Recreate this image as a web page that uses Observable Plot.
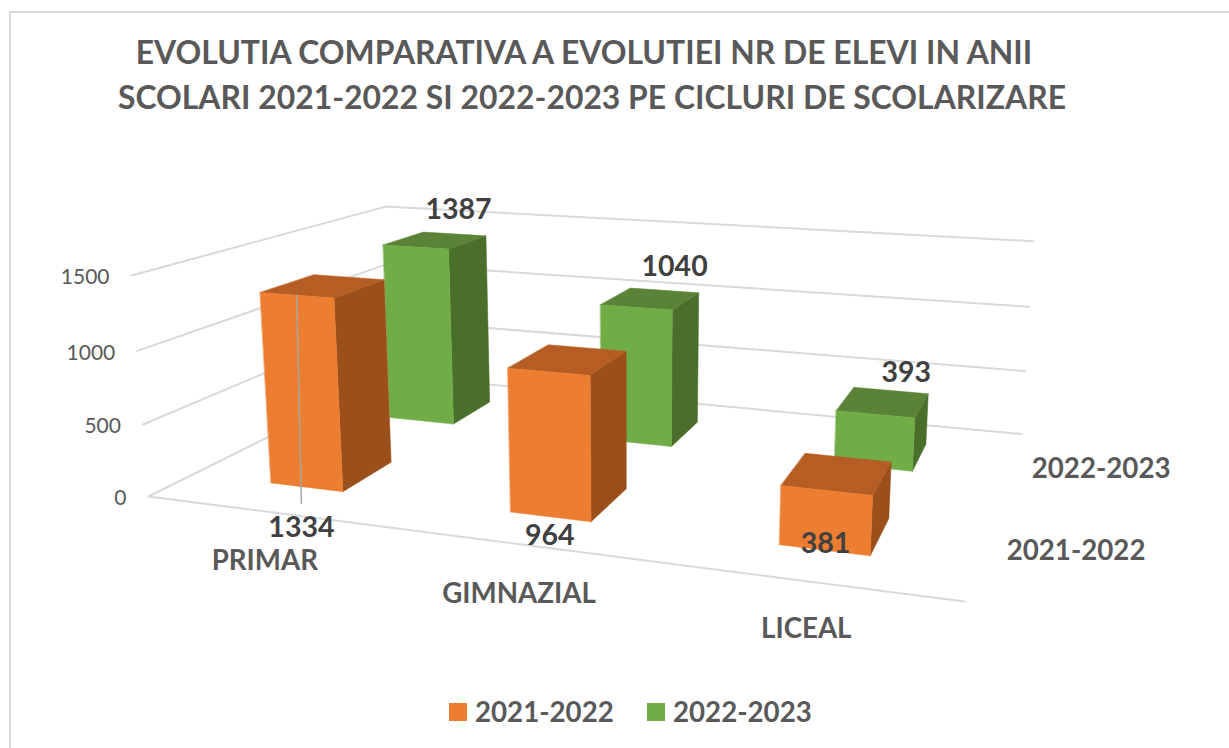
<!DOCTYPE html>
<html>
<head>
<meta charset="utf-8">
<script src="https://cdn.jsdelivr.net/npm/d3@7"></script>
<script src="https://cdn.jsdelivr.net/npm/@observablehq/plot@0.6"></script>
<style>
html,body{margin:0;padding:0;background:#fff;overflow:hidden}
#page{position:relative;width:1229px;height:748px;overflow:hidden;font-family:Lato,sans-serif}
#frame{position:absolute;left:9px;top:11px;width:1300px;height:800px;border:2px solid #d9d9d9;box-sizing:border-box}
.title{position:absolute;white-space:nowrap;font-weight:700;font-size:31.9px;color:#595959;line-height:36px;transform:translateX(-50%)}
#chart{position:absolute;left:0;top:130px;width:1229px;height:550px}
#chart svg{display:block;overflow:visible;background:transparent}
.swatch{position:absolute;top:703px;width:18px;height:18px}
.legend{position:absolute;top:695px;font-weight:700;font-size:27.7px;line-height:34px;color:#595959;white-space:nowrap}
</style>
</head>
<body>
<div id="page">
  <div id="frame"></div>
  <div id="t1" class="title" style="left:584px;top:34px"></div>
  <div id="t2" class="title" style="left:592px;top:79px"></div>
  <div id="chart"></div>
  <div id="legend"></div>
</div>
<script>
// ---- data ----
const titleLines = [
  "EVOLUTIA COMPARATIVA A EVOLUTIEI NR DE ELEVI IN ANII",
  "SCOLARI 2021-2022 SI 2022-2023 PE CICLURI DE SCOLARIZARE"
];
const categories = ["PRIMAR", "GIMNAZIAL", "LICEAL"];
const seriesNames = ["2021-2022", "2022-2023"];
const values2021 = [1334, 964, 381];
const values2022 = [1387, 1040, 393];
const valueTicks = [0, 500, 1000, 1500];
const valueMax = 1500;

// ---- styles ----
const faceColors = {
  "2021-2022 front": "#ED7D31", "2021-2022 side": "#9B4F1B", "2021-2022 top": "#B55D22",
  "2022-2023 front": "#70AD47", "2022-2023 side": "#4A6F2B", "2022-2023 top": "#5A8337"
};
const legendColors = ["#ED7D31", "#70AD47"];
const legendSwatchX = [449, 647];
const legendTextX = [475, 673];
const labelOffsets = {
  "2021-2022": [[-31, 56], [-20, 36], [-10, 13]],
  "2022-2023": [[23, -30], [24, -32], [23, -29]]
};
const catLabelDy = [50, 50, 48];

// ---- 3D chart box: camera mapping (category axis u, depth d, value v, all 0..1) to the picture ----
const cam = {o: [148, 496], u: [964, 601], d: [391.5, 375], v: [131, 275], a: -0.1685, b: 0.3223, c: -0.034};
function project(u, d, v) {
  const w = 1 + cam.a * u + cam.b * d + cam.c * v;
  const p = i => (cam.o[i]
    + u * (cam.u[i] * (1 + cam.a) - cam.o[i])
    + d * (cam.d[i] * (1 + cam.b) - cam.o[i])
    + v * (cam.v[i] * (1 + cam.c) - cam.o[i])) / w;
  return [p(0), p(1)];
}
const barHalfU = 0.052, barHalfD = 0.1, backWallEnd = 1.008;
const nCat = categories.length, nSer = seriesNames.length;
const uC = i => (i + 0.5) / nCat;
const dC = s => (s + 0.5) / nSer;

// grid
const gridRows = [];
for (const t of valueTicks) {
  const v = t / valueMax;
  gridRows.push({id: "w" + t, pos: project(0, 0, v)}, {id: "w" + t, pos: project(0, 1, v)}, {id: "w" + t, pos: project(backWallEnd, 1, v)});
}
gridRows.push({id: "front", pos: project(0, 0, 0)}, {id: "front", pos: project(1, 0, 0)});

// bars, back series first
const faceRows = [];
const seriesValues = [values2021, values2022];
[1, 0].forEach(s => {
  categories.forEach((cat, i) => {
    const v = seriesValues[s][i] / valueMax;
    const u0 = uC(i) - barHalfU, u1 = uC(i) + barHalfU, d0 = dC(s) - barHalfD, d1 = dC(s) + barHalfD;
    const faces = {
      side: [[u1, d0, 0], [u1, d1, 0], [u1, d1, v], [u1, d0, v]],
      top: [[u0, d0, v], [u1, d0, v], [u1, d1, v], [u0, d1, v]],
      front: [[u0, d0, 0], [u1, d0, 0], [u1, d0, v], [u0, d0, v]]
    };
    for (const [name, corners] of Object.entries(faces)) {
      for (const c of corners) faceRows.push({id: `${s}-${i}-${name}`, face: `${seriesNames[s]} ${name}`, pos: project(...c)});
    }
  });
});

// labels
const valueLabels = [];
seriesNames.forEach((name, s) => categories.forEach((cat, i) => {
  const val = seriesValues[s][i];
  const base = s === 1 ? project(uC(i), dC(s), val / valueMax) : project(uC(i), dC(s), 0);
  const off = labelOffsets[name][i];
  valueLabels.push({text: String(val), x: base[0] + off[0], y: base[1] + off[1]});
}));
const tickLabels = valueTicks.map(t => ({text: String(t), pos: project(0, 0, t / valueMax)}));
const catLabels = categories.map((c, i) => {
  const p = project(uC(i), 0, 0);
  return {text: c, x: p[0], y: p[1] + catLabelDy[i]};
});
const serLabels = seriesNames.map((n, s) => ({text: n, pos: project(1, dC(s), 0)}));
const leaderTop = project(uC(0), dC(0) - barHalfD, values2021[0] / valueMax);
const leaderEnd = valueLabels[0];
const leader = [{x: leaderTop[0], y: leaderTop[1]}, {x: leaderEnd.x, y: leaderEnd.y - 25}];

const font = "Lato, sans-serif";
const chart = Plot.plot({
  width: 1229, height: 550,
  marginTop: 0, marginRight: 0, marginBottom: 0, marginLeft: 0,
  x: {axis: null, domain: [0, 1229], range: [0, 1229]},
  y: {axis: null, domain: [130, 680], range: [0, 550]},
  color: {domain: Object.keys(faceColors), range: Object.values(faceColors)},
  marks: [
    Plot.line(gridRows, {x: d => d.pos[0], y: d => d.pos[1], z: "id", stroke: "#d9d9d9", strokeWidth: 2}),
    Plot.line(faceRows, {x: d => d.pos[0], y: d => d.pos[1], z: "id", fill: "face", stroke: "face", strokeWidth: 0.5, curve: "linear-closed"}),
    Plot.line(leader, {x: "x", y: "y", stroke: "#a6a6a6", strokeWidth: 1.5}),
    Plot.text(tickLabels, {x: d => d.pos[0], y: d => d.pos[1], text: "text", textAnchor: "end", dx: -22, dy: 2, fill: "#595959", fontFamily: font, fontSize: 21}),
    Plot.text(catLabels, {x: "x", y: "y", text: "text", fill: "#595959", fontFamily: font, fontWeight: 700, fontSize: 27.7}),
    Plot.text(serLabels, {x: d => d.pos[0], y: d => d.pos[1], text: "text", textAnchor: "start", dx: 26, dy: 3, fill: "#595959", fontFamily: font, fontWeight: 700, fontSize: 27.7}),
    Plot.text(valueLabels, {x: "x", y: "y", text: "text", fill: "#404040", fontFamily: font, fontWeight: 700, fontSize: 28.5})
  ]
});
document.getElementById("chart").appendChild(chart);
document.getElementById("t1").textContent = titleLines[0];
document.getElementById("t2").textContent = titleLines[1];
const lg = document.getElementById("legend");
seriesNames.forEach((n, i) => {
  const sw = document.createElement("div");
  sw.className = "swatch"; sw.style.left = legendSwatchX[i] + "px"; sw.style.background = legendColors[i];
  const tx = document.createElement("div");
  tx.className = "legend"; tx.style.left = legendTextX[i] + "px"; tx.textContent = n;
  lg.append(sw, tx);
});
</script>
</body>
</html>
